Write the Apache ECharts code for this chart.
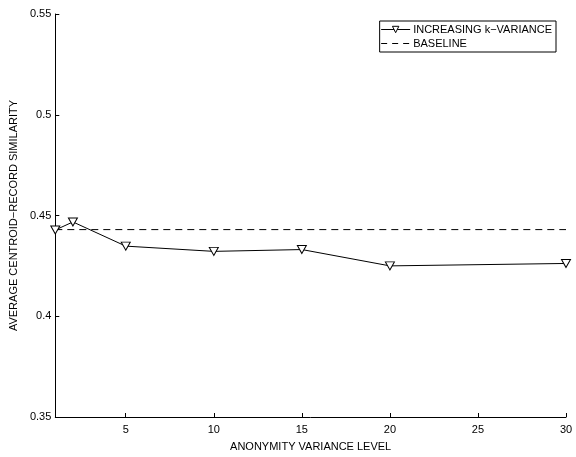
<!DOCTYPE html>
<html>
<head>
<meta charset="utf-8">
<script src="https://cdn.jsdelivr.net/npm/echarts@6/dist/echarts.min.js"></script>
<style>html,body{margin:0;padding:0;background:#fff}#c{width:576px;height:457px}</style>
</head>
<body>
<div id="c"></div>
<script>
var levels = [1, 2, 5, 10, 15, 20, 30];
var similarity = [0.4428, 0.4468, 0.4348, 0.4322, 0.4331, 0.4250, 0.4262];
var baselineValue = 0.4430;
var xTicks = [5, 10, 15, 20, 25, 30];
var yTicks = [0.35, 0.4, 0.45, 0.5, 0.55];
var seriesNames = ['INCREASING k\u2212VARIANCE', 'BASELINE'];

var font = 'Liberation Sans, Arial, Helvetica, sans-serif';
var chart = echarts.init(document.getElementById('c'), null, {renderer: 'canvas'});
chart.setOption({
  animation: false,
  backgroundColor: '#fff',
  textStyle: {fontFamily: font},
  grid: {left: 51, right: 10, top: 14, bottom: 35, containLabel: false},
  legend: {
    right: 20, top: 21,
    orient: 'vertical',
    backgroundColor: '#fff',
    borderColor: '#000', borderWidth: 1, borderRadius: 0,
    padding: [3, 4, 3, 1],
    itemGap: 3,
    itemWidth: 29, itemHeight: 8,
    textStyle: {fontFamily: font, fontSize: 11, color: '#000', padding: [0, 0, 0, -2]},
    data: [
      {name: seriesNames[0], itemStyle: {color: '#fff', borderColor: '#000', borderWidth: 1},
        lineStyle: {width: 1, color: '#000'}},
      {name: seriesNames[1], itemStyle: {opacity: 0}, lineStyle: {width: 1, color: '#000', type: [6, 5]}}
    ]
  },
  xAxis: {
    type: 'value', min: 1, max: 30,
    name: 'ANONYMITY VARIANCE LEVEL', nameLocation: 'middle', nameGap: 24,
    nameTextStyle: {fontFamily: font, fontSize: 11, color: '#000'},
    axisLine: {lineStyle: {color: '#000', width: 1}},
    axisTick: {inside: true, length: 4, lineStyle: {color: '#000'}, customValues: xTicks},
    axisLabel: {fontFamily: font, fontSize: 11, color: '#000', margin: 7, customValues: xTicks},
    splitLine: {show: false}
  },
  yAxis: {
    type: 'value', min: 0.35, max: 0.55, interval: 0.05,
    name: 'AVERAGE CENTROID\u2212RECORD SIMILARITY', nameLocation: 'middle', nameGap: 36,
    nameTextStyle: {fontFamily: font, fontSize: 11, color: '#000'},
    axisLine: {show: true, lineStyle: {color: '#000', width: 1}},
    axisTick: {inside: true, length: 4, lineStyle: {color: '#000'}, customValues: yTicks},
    axisLabel: {fontFamily: font, fontSize: 11, color: '#000', margin: 4, customValues: yTicks,
      formatter: function (v) { return String(+v.toFixed(2)); }},
    splitLine: {show: false}
  },
  series: [
    {
      name: seriesNames[0], type: 'line',
      data: levels.map(function (x, i) { return [x, similarity[i]]; }),
      symbol: 'triangle', symbolRotate: 180, symbolSize: [9, 8],
      lineStyle: {color: '#000', width: 1},
      itemStyle: {color: '#fff', borderColor: '#000', borderWidth: 1},
      z: 3
    },
    {
      name: seriesNames[1], type: 'line',
      data: [[levels[0], baselineValue], [levels[levels.length - 1], baselineValue]],
      symbol: 'none',
      lineStyle: {color: '#000', width: 1, type: [7, 5]},
      itemStyle: {color: '#000'},
      z: 2
    }
  ]
});
</script>
</body>
</html>
